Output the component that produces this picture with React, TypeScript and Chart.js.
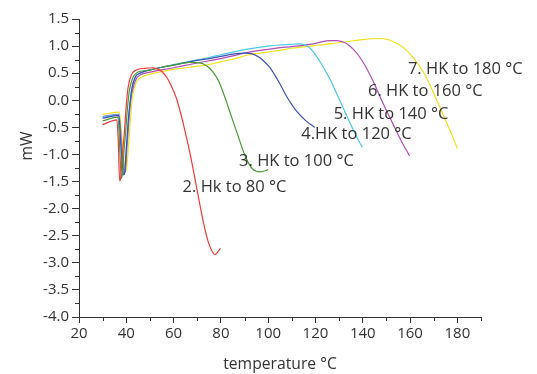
import React, { useEffect, useRef } from "react";
import { Chart, registerables } from "chart.js";

Chart.register(...registerables);

// ---- data (temperature °C, heat flow mW) ----
const tempRed = [30, 36.0, 36.6, 37.2, 37.7, 38.3, 39.0, 39.5, 40.0, 40.7, 42.2, 44.3, 47.8, 51, 53, 55, 57, 59, 61, 63, 65, 67, 69, 71, 73, 75, 76.5, 77.3, 78.5, 79.8];
const mwRed = [-0.45, -0.36, -0.75, -1.49, -1.4, -1.0, -0.7, -0.4, -0.09, 0.22, 0.47, 0.56, 0.59, 0.6, 0.58, 0.53, 0.43, 0.27, 0.06, -0.24, -0.6, -0.99, -1.44, -1.9, -2.33, -2.66, -2.8, -2.85, -2.81, -2.73];

const tempGreen = [30, 36.5, 37.3, 37.9, 38.4, 39.0, 39.7, 40.2, 40.7, 41.4, 42.9, 45, 48.5, 50, 55, 60, 66.8, 71, 73, 75, 77, 79, 81, 83, 85, 87, 89, 91, 93, 95, 96.6, 98, 99.9];
const mwGreen = [-0.38, -0.31, -0.95, -1.44, -1.35, -0.95, -0.6, -0.3, -0.05, 0.2, 0.43, 0.52, 0.55, 0.56, 0.61, 0.65, 0.7, 0.69, 0.66, 0.6, 0.5, 0.36, 0.14, -0.11, -0.37, -0.62, -0.88, -1.1, -1.25, -1.31, -1.32, -1.31, -1.28];

const tempBlue = [30, 36.8, 37.9, 38.9, 39.4, 40.0, 40.5, 41.0, 41.6, 42.3, 43.7, 45.7, 50, 55, 60, 66.8, 75, 80, 85, 90, 93, 96, 98, 100.6, 103, 105, 107.7, 110, 112, 116, 119.7];
const mwBlue = [-0.33, -0.28, -0.95, -1.38, -1.3, -0.9, -0.6, -0.3, -0.05, 0.2, 0.42, 0.5, 0.56, 0.61, 0.65, 0.71, 0.77, 0.81, 0.85, 0.87, 0.86, 0.8, 0.73, 0.61, 0.45, 0.3, 0.08, -0.08, -0.2, -0.38, -0.5];

const tempCyan = [30, 36.8, 37.9, 38.9, 39.4, 40.0, 40.5, 41.0, 41.6, 42.3, 43.7, 45.7, 50, 55, 60, 66.8, 75, 80, 85, 92, 100, 105, 109, 113, 115, 117.5, 119.5, 121.8, 124, 126, 128.8, 131.6, 134.5, 137, 139.8];
const mwCyan = [-0.31, -0.27, -0.93, -1.37, -1.29, -0.9, -0.6, -0.3, -0.05, 0.2, 0.42, 0.5, 0.56, 0.61, 0.66, 0.72, 0.79, 0.84, 0.89, 0.95, 1.0, 1.02, 1.03, 1.04, 1.03, 0.97, 0.87, 0.72, 0.56, 0.4, 0.14, -0.13, -0.41, -0.64, -0.87];

const tempPurple = [30, 36.9, 38.2, 39.2, 39.7, 40.3, 40.9, 41.4, 42, 42.7, 44, 46, 50, 60, 66.8, 75, 80, 86, 92, 100, 105, 110, 119, 121.7, 126, 129, 132, 134, 136, 138, 140, 142, 144.3, 146.5, 148.5, 152.8, 156.3, 159.8];
const mwPurple = [-0.30, -0.26, -0.95, -1.36, -1.25, -0.85, -0.5, -0.2, 0.05, 0.2, 0.38, 0.47, 0.52, 0.6, 0.66, 0.73, 0.77, 0.83, 0.89, 0.94, 0.97, 0.99, 1.04, 1.07, 1.1, 1.1, 1.07, 1.02, 0.94, 0.84, 0.71, 0.56, 0.36, 0.15, -0.05, -0.44, -0.75, -1.03];

const tempYellow = [30, 37.0, 38.6, 39.7, 40.3, 40.9, 41.5, 42.0, 42.6, 43.3, 44.6, 46.5, 50, 55, 60, 66.8, 75, 80, 86, 92, 100, 104.8, 110, 121.7, 126, 133, 140, 147, 150, 152.5, 155.6, 158.5, 161.2, 163.5, 165.5, 167.5, 169.7, 171.8, 173.9, 175.7, 177.5, 180];
const mwYellow = [-0.26, -0.22, -0.9, -1.32, -1.2, -0.85, -0.5, -0.2, 0.05, 0.22, 0.36, 0.43, 0.48, 0.53, 0.57, 0.61, 0.66, 0.71, 0.77, 0.84, 0.89, 0.92, 0.96, 1.02, 1.04, 1.08, 1.12, 1.14, 1.13, 1.09, 1.02, 0.92, 0.79, 0.66, 0.53, 0.37, 0.16, -0.05, -0.26, -0.44, -0.62, -0.89];

const seriesNames = ["2. Hk to 80 °C", "3. HK to 100 °C", "4.HK to 120 °C", "5. HK to 140 °C", "6. HK to 160 °C", "7. HK to 180 °C"];
// annotation anchor (left edge, vertical middle) in data units
const labelTemps = [63.8, 87.7, 114, 127.7, 142.2, 159.1];
const labelValues = [-1.6, -1.13, -0.62, -0.25, 0.16, 0.57];

const xMinorTicks = [30, 50, 70, 90, 110, 130, 150, 170, 190];
const yMinorTicks = [1.25, 0.75, 0.25, -0.25, -0.75, -1.25, -1.75, -2.25, -2.75, -3.25, -3.75];

const xTitle = "temperature °C";
const yTitle = "mW";

const COLORS = ["#f23a3a", "#4a9a36", "#3c52b4", "#4ec6e4", "#b04cb4", "#eee21c"];
const TEXT = "#333333";
const FONT = "'Open Sans', 'DejaVu Sans', sans-serif";

const toPts = (t: number[], v: number[]) => t.map((x, i) => ({ x, y: v[i] }));

const overlay = {
  id: "overlay",
  afterDraw(chart: any) {
    const { ctx, chartArea } = chart;
    const xs = chart.scales.x;
    const ys = chart.scales.y;
    ctx.save();
    ctx.strokeStyle = TEXT;
    ctx.lineWidth = 1;
    ctx.beginPath();
    xMinorTicks.forEach((t) => {
      const px = Math.round(xs.getPixelForValue(t)) + 0.5;
      ctx.moveTo(px, chartArea.bottom);
      ctx.lineTo(px, chartArea.bottom + 4);
    });
    yMinorTicks.forEach((v) => {
      const py = Math.round(ys.getPixelForValue(v)) + 0.5;
      ctx.moveTo(chartArea.left - 4, py);
      ctx.lineTo(chartArea.left, py);
    });
    ctx.stroke();

    ctx.fillStyle = TEXT;
    ctx.font = `16.5px ${FONT}`;
    ctx.textAlign = "left";
    ctx.textBaseline = "middle";
    seriesNames.forEach((s, i) => {
      ctx.fillText(s, xs.getPixelForValue(labelTemps[i]), ys.getPixelForValue(labelValues[i]));
    });

    ctx.font = `15.7px ${FONT}`;
    ctx.textAlign = "center";
    ctx.fillText(xTitle, (chartArea.left + chartArea.right) / 2, chartArea.bottom + 48);
    ctx.translate(28, chartArea.top + 127);
    ctx.rotate(-Math.PI / 2);
    ctx.fillText(yTitle, 0, 0);
    ctx.restore();
  },
};

export default function App() {
  const ref = useRef<HTMLCanvasElement>(null);
  useEffect(() => {
    if (!ref.current) return;
    const series = [
      [tempRed, mwRed],
      [tempGreen, mwGreen],
      [tempBlue, mwBlue],
      [tempCyan, mwCyan],
      [tempPurple, mwPurple],
      [tempYellow, mwYellow],
    ];
    const chart = new Chart(ref.current, {
      type: "line",
      data: {
        datasets: series.map(([t, v], i) => ({
          label: seriesNames[i],
          data: toPts(t as number[], v as number[]),
          borderColor: COLORS[i],
          borderWidth: 1.2,
          pointRadius: 0,
          fill: false,
          cubicInterpolationMode: "monotone" as const,
        })),
      },
      options: {
        animation: false,
        responsive: false,
        layout: { padding: { top: 19, right: 56, left: 0, bottom: 0 } },
        plugins: { legend: { display: false }, tooltip: { enabled: false } },
        scales: {
          x: {
            type: "linear",
            min: 20,
            max: 190,
            afterFit: (s: any) => { s.height = 57; },
            ticks: { stepSize: 20, includeBounds: false, color: TEXT, font: { family: FONT, size: 15 }, padding: 2, maxRotation: 0 },
            grid: { drawOnChartArea: false, drawTicks: true, tickLength: 6, color: TEXT },
            border: { display: true, color: TEXT, width: 1 },
          },
          y: {
            type: "linear",
            min: -4,
            max: 1.5,
            afterFit: (s: any) => { s.width = 79; },
            ticks: { stepSize: 0.5, color: TEXT, font: { family: FONT, size: 15 }, padding: 3, callback: (v: any) => Number(v).toFixed(1) },
            grid: { drawOnChartArea: false, drawTicks: true, tickLength: 7, color: TEXT },
            border: { display: true, color: TEXT, width: 1 },
          },
        },
      },
      plugins: [overlay],
    });
    return () => chart.destroy();
  }, []);
  return (
    <div style={{ position: "fixed", left: 0, top: 0, width: 537, height: 374, background: "#fff" }}>
      <canvas ref={ref} width={537} height={374} />
    </div>
  );
}
